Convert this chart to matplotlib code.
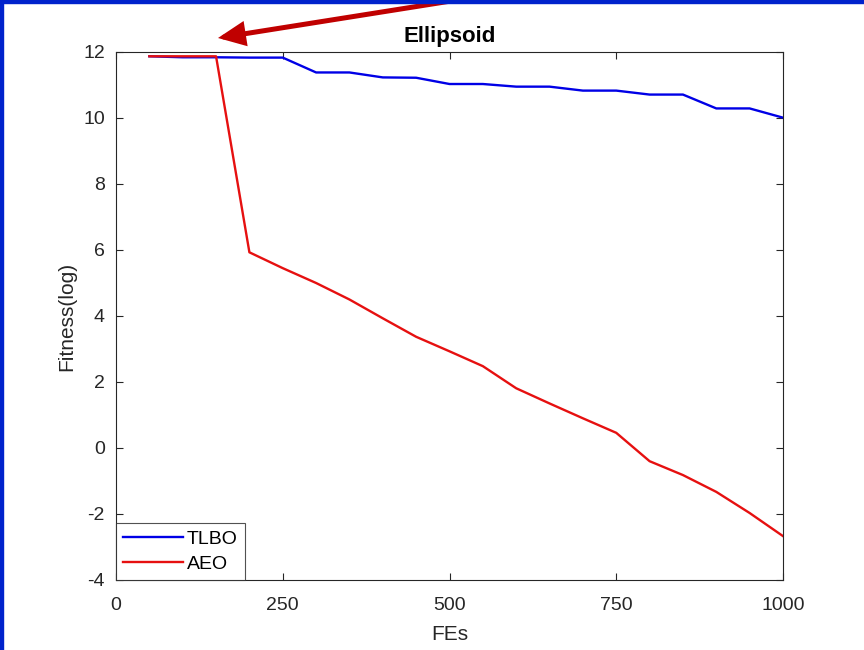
import matplotlib
matplotlib.use("Agg")
import matplotlib.pyplot as plt
from matplotlib.patches import FancyArrowPatch, Rectangle, ArrowStyle

plt.rcParams['font.family'] = ['Liberation Sans', 'DejaVu Sans']
plt.rcParams['axes.unicode_minus'] = False

fes = [50, 100, 150, 200, 250, 300, 350, 400, 450, 500, 550, 600, 650,
       700, 750, 800, 850, 900, 950, 1000]
tlbo = [11.87, 11.84, 11.84, 11.83, 11.83, 11.38, 11.38, 11.23, 11.22, 11.03,
        11.03, 10.95, 10.95, 10.83, 10.83, 10.71, 10.71, 10.29, 10.29, 10.01]
aeo = [11.87, 11.87, 11.87, 5.93, 5.45, 5.00, 4.50, 3.93, 3.37, 2.93,
       2.48, 1.81, 1.35, 0.90, 0.46, -0.40, -0.82, -1.33, -1.97, -2.67]

x_ticks = [0, 250, 500, 750, 1000]
y_ticks = [-4, -2, 0, 2, 4, 6, 8, 10, 12]

fig = plt.figure(figsize=(8.64, 6.5), dpi=100)
ax = fig.add_axes([116/864, 1 - 580/650, (783 - 116)/864, (580 - 52)/650])

ax.plot(fes, tlbo, color='#0000E6', lw=1.7, label='TLBO')
ax.plot(fes, aeo, color='#E61010', lw=1.7, label='AEO')

ax.set_xlim(0, 1000)
ax.set_ylim(-4, 12)
ax.set_xticks(x_ticks)
ax.set_yticks(y_ticks)
ax.tick_params(direction='in', top=True, right=True, length=5, width=0.8,
               color='#262626', labelsize=14, labelcolor='#262626')
ax.tick_params(axis='x', pad=12)
ax.tick_params(axis='y', pad=8)
for s in ax.spines.values():
    s.set_color('#262626')
    s.set_linewidth(0.8)

ax.set_xlabel('FEs', fontsize=15, color='#262626', labelpad=8)
ax.set_ylabel('Fitness(log)', fontsize=15, color='#262626', labelpad=5)
ax.set_title('Ellipsoid', fontsize=16, fontweight='bold', pad=7)

leg = ax.legend(loc='lower left', fontsize=14, frameon=True, fancybox=False,
                borderaxespad=0, handlelength=3.1, handletextpad=0.2,
                borderpad=0.35, labelspacing=0.4)
leg.get_frame().set_edgecolor('#262626')
leg.get_frame().set_linewidth(0.8)

# slide frame along the top and left edges
fig.patches.append(Rectangle((0, 1 - 3/650), 1, 3/650, transform=fig.transFigure,
                             color='#0022CC', zorder=10))
fig.patches.append(Rectangle((0, 0), 3/864, 1, transform=fig.transFigure,
                             color='#0022CC', zorder=10))

# pointer arrow
arrow = FancyArrowPatch((470/864, 1 + 2/650), (218/864, 1 - 38/650),
                        transform=fig.transFigure, color='#C00000',
                        arrowstyle=ArrowStyle('-|>', head_length=0.7, head_width=0.32),
                        mutation_scale=20, lw=3.6, shrinkA=0, shrinkB=0,
                        joinstyle='miter', zorder=9)
fig.patches.append(arrow)

fig.savefig('out.png', dpi=100)
